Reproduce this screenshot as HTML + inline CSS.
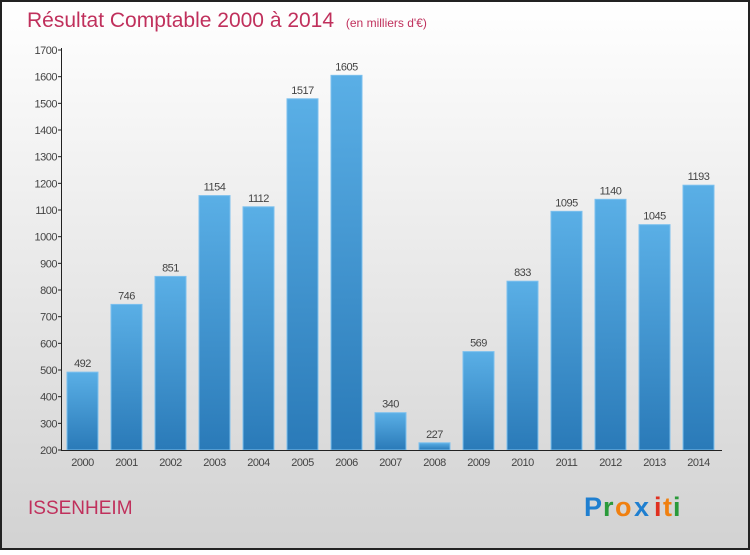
<!DOCTYPE html>
<html><head><meta charset="utf-8"><style>
html,body{margin:0;padding:0;}
body{width:750px;height:550px;overflow:hidden;font-family:"Liberation Sans",sans-serif;}
</style></head><body>
<svg id="chart" width="750" height="550" xmlns="http://www.w3.org/2000/svg">
<defs>
<linearGradient id="bg" x1="0" y1="0" x2="0" y2="1"><stop offset="0" stop-color="#ffffff"/><stop offset="1" stop-color="#d2d2d2"/></linearGradient>
<linearGradient id="bar" x1="0" y1="0" x2="0" y2="1"><stop offset="0" stop-color="#5aafe6"/><stop offset="1" stop-color="#2a7ab8"/></linearGradient>
</defs>
<rect x="1" y="1" width="748" height="548" fill="url(#bg)" stroke="#222" stroke-width="2"/>
<text x="27" y="27" font-size="21" fill="#c0305c">Résultat Comptable 2000 à 2014 <tspan font-size="12" fill="#c0305c" dx="6">(en milliers d'€)</tspan></text>
<g id="grid"></g><g id="bars"></g><g id="axes"></g>
<text x="28" y="514" font-size="19" fill="#c0305c">ISSENHEIM</text>
<g font-size="27" font-weight="bold" font-family="'Liberation Sans',sans-serif">
<text x="584" y="516" fill="#1f7fd0">P</text><text x="603" y="516" fill="#2a9a3a">r</text><text x="615" y="516" fill="#f08010">o</text><text x="634" y="516" fill="#1f7fd0">x</text><text x="654" y="516" fill="#e03020">i</text><text x="663" y="516" fill="#f08010">t</text><text x="673" y="516" fill="#2a9a3a">i</text>
</g>
</svg>
<script>
const categories=["2000","2001","2002","2003","2004","2005","2006","2007","2008","2009","2010","2011","2012","2013","2014"];
const values=[492,746,851,1154,1112,1517,1605,340,227,569,833,1095,1140,1045,1193];
const yTicks=[200,300,400,500,600,700,800,900,1000,1100,1200,1300,1400,1500,1600,1700];
const NS="http://www.w3.org/2000/svg";
const y=v=>450-(v-200)*400/1500;
const x=i=>82.5+44*i;
function mk(t,a,p){const e=document.createElementNS(NS,t);for(const k in a)e.setAttribute(k,a[k]);p.appendChild(e);return e;}
const grid=document.getElementById('grid'),bars=document.getElementById('bars'),axes=document.getElementById('axes');
yTicks.forEach(v=>{
 const t=mk('line',{x1:58,x2:62,y1:y(v),y2:y(v),stroke:'#222'},axes);
 
 
 const tx=mk('text',{x:57,y:y(v)+4,'text-anchor':'end','font-size':11,fill:'#444','letter-spacing':'-0.5'},axes);
 tx.textContent=v;
 
 
});
values.forEach((v,i)=>{
 const r=mk('rect',{x:x(i)-15.5,y:y(v),width:31,height:450-y(v),fill:'url(#bar)',stroke:'#7cc0ee','stroke-width':1},bars);
 
 
 const t=mk('text',{x:x(i),y:y(v)-5,'text-anchor':'middle','font-size':11,fill:'#444','letter-spacing':'-0.5'},bars);
 t.textContent=v;
 
 
 const c=mk('text',{x:x(i),y:466,'text-anchor':'middle','font-size':11,fill:'#444','letter-spacing':'-0.5'},axes);
 c.textContent=categories[i];
 
 
});
const ya=mk('line',{x1:61.5,x2:61.5,y1:48,y2:451,stroke:'#222'},axes);


const xa=mk('line',{x1:61,x2:722,y1:450.5,y2:450.5,stroke:'#222'},axes);


</script>
</body></html>
